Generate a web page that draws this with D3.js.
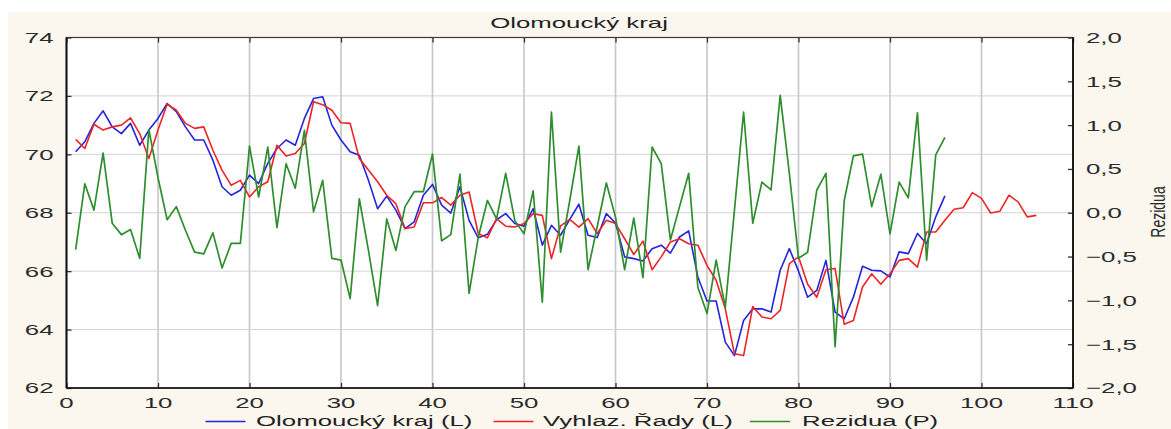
<!DOCTYPE html>
<html>
<head>
<meta charset="utf-8">
<script src="https://cdn.jsdelivr.net/npm/d3@7/dist/d3.min.js"></script>
<style>
  html, body { margin: 0; padding: 0; background: #ffffff; }
  svg { display: block; }
  text { font-family: "Liberation Sans", Arial, sans-serif; }
</style>
</head>
<body>
<svg id="chart" width="1171" height="429"></svg>
<script>
// Olomoucký kraj – original series, smoothed series (left axis) and residuals (right axis)
const title = "Olomoucký kraj";
const rightAxisTitle = "Rezidua";

const seriesNames = ["Olomoucký kraj (L)", "Vyhlaz. Řady (L)", "Rezidua (P)"];

// original series, periods 1..96
const original = [
  70.09, 70.43, 71.06, 71.49, 70.94, 70.71, 71.06, 70.31, 70.83, 71.23,
  71.74, 71.46, 70.94, 70.49, 70.49, 69.80, 68.89, 68.60, 68.77, 69.29,
  69.00, 69.69, 70.20, 70.49, 70.31, 71.23, 71.91, 71.97, 71.00, 70.49,
  70.09, 69.97, 69.11, 68.14, 68.57, 68.09, 67.46, 67.69, 68.60, 68.97,
  68.26, 67.99, 68.89, 67.74, 67.14, 67.26, 67.76, 67.97, 67.63, 67.54,
  68.14, 66.89, 67.57, 67.23, 67.77, 68.29, 67.23, 67.15, 67.97, 67.65,
  66.49, 66.43, 66.35, 66.77, 66.89, 66.62, 67.17, 67.38, 65.80, 64.98,
  64.98, 63.57, 63.11, 64.31, 64.71, 64.71, 64.60, 66.03, 66.77, 66.00,
  65.11, 65.34, 66.37, 64.60, 64.37, 65.11, 66.17, 66.03, 66.01, 65.80,
  66.66, 66.60, 67.29, 66.94, 67.86, 68.58
];

// smoothed series, periods 1..106 (includes forecast)
const smoothed = [
  70.51, 70.20, 71.03, 70.83, 70.94, 71.00, 71.25, 70.71, 69.86, 70.83,
  71.72, 71.51, 71.06, 70.89, 70.94, 70.14, 69.46, 68.94, 69.11, 68.54,
  68.89, 69.06, 70.31, 69.94, 70.03, 70.37, 71.80, 71.70, 71.51, 71.08,
  71.06, 69.86, 69.46, 69.06, 68.60, 68.31, 67.46, 67.51, 68.34, 68.34,
  68.52, 68.26, 68.60, 68.71, 67.29, 67.14, 67.80, 67.54, 67.51, 67.63,
  67.97, 67.91, 66.43, 67.55, 67.77, 67.51, 67.80, 67.29, 67.74, 67.63,
  67.11, 66.57, 67.03, 66.05, 66.49, 67.00, 67.11, 66.94, 66.89, 66.20,
  65.69, 64.71, 63.17, 63.11, 64.79, 64.43, 64.37, 64.66, 66.26, 66.49,
  65.55, 65.11, 66.05, 66.09, 64.18, 64.31, 65.46, 65.91, 65.55, 65.91,
  66.37, 66.43, 66.14, 67.34, 67.34, 67.74, 68.12, 68.17, 68.69, 68.49,
  67.99, 68.05, 68.60, 68.37, 67.86, 67.91
];

// residuals, periods 1..96
const residuals = [
  -0.42, 0.33, 0.03, 0.68, -0.12, -0.25, -0.19, -0.52, 0.95, 0.40,
  -0.08, 0.07, -0.20, -0.45, -0.47, -0.23, -0.63, -0.35, -0.35, 0.76,
  0.18, 0.75, -0.17, 0.56, 0.28, 0.94, 0.01, 0.37, -0.52, -0.54,
  -0.98, 0.16, -0.43, -1.06, -0.07, -0.43, 0.07, 0.24, 0.24, 0.67,
  -0.32, -0.25, 0.44, -0.92, -0.28, 0.14, -0.07, 0.45, -0.09, -0.24,
  0.25, -1.02, 1.15, -0.45, 0.14, 0.76, -0.65, -0.16, 0.34, -0.05,
  -0.65, -0.06, -0.74, 0.75, 0.56, -0.31, 0.07, 0.45, -0.85, -1.15,
  -0.54, -1.08, 0.03, 1.15, -0.12, 0.35, 0.26, 1.34, 0.45, -0.52,
  -0.45, 0.26, 0.45, -1.53, 0.14, 0.65, 0.67, 0.07, 0.44, -0.24,
  0.35, 0.17, 1.14, -0.54, 0.66, 0.86
];

const xTicks = [0, 10, 20, 30, 40, 50, 60, 70, 80, 90, 100, 110];
const leftTicks = [62, 64, 66, 68, 70, 72, 74];
const rightTicks = [-2.0, -1.5, -1.0, -0.5, 0.0, 0.5, 1.0, 1.5, 2.0];

const colors = ["#2424dc", "#ee2424", "#2e8e2e"];

// ---- layout ----
const svg = d3.select("#chart");
const plot = { left: 66.5, right: 1073, top: 37.5, bottom: 388 };
const SX = 1.72;      // horizontal glyph stretch
const FONT = 15;

const x = d3.scaleLinear().domain([0, 110]).range([plot.left, plot.right]);
const yL = d3.scaleLinear().domain([62, 74]).range([plot.bottom, plot.top]);
const yR = d3.scaleLinear().domain([-2, 2]).range([plot.bottom, plot.top]);

// backgrounds
svg.append("rect").attr("x", 0).attr("y", 0).attr("width", 1171).attr("height", 429).attr("fill", "#ffffff");
svg.append("rect").attr("x", 8).attr("y", 12).attr("width", 1163).attr("height", 417).attr("fill", "#fbf7ee");
svg.append("rect")
  .attr("x", plot.left).attr("y", plot.top)
  .attr("width", plot.right - plot.left).attr("height", plot.bottom - plot.top)
  .attr("fill", "#ffffff");

// stretched text helper
function label(parent, str, px, py, anchor, opts = {}) {
  return parent.append("text")
    .attr("transform", `translate(${px},${py}) scale(${opts.sx || SX},1)`)
    .attr("text-anchor", anchor)
    .attr("dy", opts.dy || null)
    .attr("font-size", opts.size || FONT)
    .attr("fill", opts.fill || "#2a2a2a")
    .text(str);
}

// grid
const grid = svg.append("g");
grid.selectAll("line.v")
  .data(xTicks.filter(t => t > 0 && t < 110))
  .join("line")
  .attr("x1", d => x(d)).attr("x2", d => x(d))
  .attr("y1", plot.top).attr("y2", plot.bottom)
  .attr("stroke", "#c9c9c9").attr("stroke-width", 1.7);
grid.selectAll("line.h")
  .data(leftTicks.filter(t => t > 62 && t < 74))
  .join("line")
  .attr("x1", plot.left).attr("x2", plot.right)
  .attr("y1", d => yL(d)).attr("y2", d => yL(d))
  .attr("stroke", "#d2d2d2").attr("stroke-width", 1);

// axes (inward ticks, labels drawn separately)
const tickLen = 5;
const axBottom = svg.append("g").attr("transform", `translate(0,${plot.bottom})`)
  .call(d3.axisTop(x).tickValues(xTicks).tickSize(tickLen).tickFormat(""));
const axTop = svg.append("g").attr("transform", `translate(0,${plot.top})`)
  .call(d3.axisBottom(x).tickValues(xTicks).tickSize(tickLen).tickFormat(""));
const axLeft = svg.append("g").attr("transform", `translate(${plot.left},0)`)
  .call(d3.axisRight(yL).tickValues(leftTicks).tickSize(tickLen).tickFormat(""));
const axRight = svg.append("g").attr("transform", `translate(${plot.right},0)`)
  .call(d3.axisLeft(yR).tickValues(rightTicks).tickSize(tickLen).tickFormat(""));
[axBottom, axTop, axLeft, axRight].forEach(a => {
  a.select(".domain").remove();
  a.selectAll(".tick line").attr("stroke", "#333").attr("stroke-width", 1.3);
});

// series lines
const clip = svg.append("clipPath").attr("id", "plotclip").append("rect")
  .attr("x", plot.left).attr("y", plot.top)
  .attr("width", plot.right - plot.left).attr("height", plot.bottom - plot.top);

const lineL = d3.line().x((d, i) => x(i + 1)).y(d => yL(d));
const lineR = d3.line().x((d, i) => x(i + 1)).y(d => yR(d));
const lines = svg.append("g").attr("clip-path", "url(#plotclip)");
lines.append("path").datum(original).attr("d", lineL)
  .attr("fill", "none").attr("stroke", colors[0]).attr("stroke-width", 1.6).attr("stroke-linejoin", "round");
lines.append("path").datum(smoothed).attr("d", lineL)
  .attr("fill", "none").attr("stroke", colors[1]).attr("stroke-width", 1.6).attr("stroke-linejoin", "round");
lines.append("path").datum(residuals).attr("d", lineR)
  .attr("fill", "none").attr("stroke", colors[2]).attr("stroke-width", 1.7).attr("stroke-linejoin", "round");

// plot frame
svg.append("rect")
  .attr("x", plot.left).attr("y", plot.top)
  .attr("width", plot.right - plot.left).attr("height", plot.bottom - plot.top)
  .attr("fill", "none").attr("stroke", "#3a3a3a").attr("stroke-width", 1.2);
svg.append("line").attr("x1", plot.left).attr("x2", plot.left)
  .attr("y1", plot.top).attr("y2", plot.bottom).attr("stroke", "#111").attr("stroke-width", 2);
svg.append("line").attr("x1", plot.left).attr("x2", plot.right)
  .attr("y1", plot.bottom).attr("y2", plot.bottom).attr("stroke", "#111").attr("stroke-width", 1.5);
svg.append("line").attr("x1", plot.right).attr("x2", plot.right)
  .attr("y1", plot.top).attr("y2", plot.bottom).attr("stroke", "#111").attr("stroke-width", 1.8);

// tick labels
const labels = svg.append("g");
xTicks.forEach(t => label(labels, String(t), x(t), 408, "middle"));
leftTicks.forEach(t => label(labels, String(t), 53.5, yL(t), "end", { dy: "0.36em" }));
const fmtR = d3.format(".1f");
rightTicks.forEach(t => label(labels, fmtR(t).replace(".", ","), 1086, yR(t), "start", { dy: "0.36em" }));

// titles
label(svg, title, 579, 28, "middle", { fill: "#222" });
svg.append("text")
  .attr("transform", `translate(1165,212) rotate(-90) scale(1,1.5)`)
  .attr("text-anchor", "middle")
  .attr("font-size", 14)
  .attr("fill", "#2a2a2a")
  .text(rightAxisTitle);

// legend along the bottom edge
const legendItems = [
  { name: seriesNames[0], color: colors[0], x0: 205.5, tx: 256 },
  { name: seriesNames[1], color: colors[1], x0: 493.5, tx: 543 },
  { name: seriesNames[2], color: colors[2], x0: 750, tx: 802 }
];
const legend = svg.append("g");
legendItems.forEach(it => {
  legend.append("line")
    .attr("x1", it.x0).attr("x2", it.x0 + 40)
    .attr("y1", 421.5).attr("y2", 421.5)
    .attr("stroke", it.color).attr("stroke-width", 1.6);
  label(legend, it.name, it.tx, 425.5, "start", { fill: "#222", size: 14.5, sx: 1.78 });
});
</script>
</body>
</html>
